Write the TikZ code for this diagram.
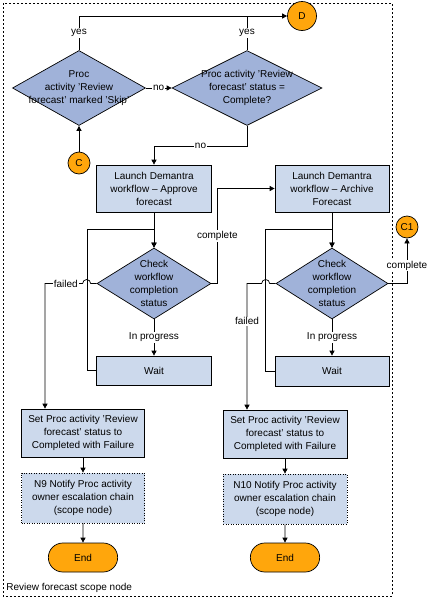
\documentclass[tikz,border=0pt]{standalone}
\usepackage{fontspec}
\setmainfont{Liberation Sans}
\usetikzlibrary{shapes.geometric,shapes.misc,arrows.meta}
\definecolor{diafill}{RGB}{160,178,217}
\definecolor{boxfill}{RGB}{204,217,236}
\definecolor{endfill}{RGB}{255,166,12}
\begin{document}
\begin{tikzpicture}[x=1pt,y=-1pt,font=\fontsize{10}{13}\selectfont,line width=0.7pt,
        >={Triangle[length=5pt,width=5pt]},
        dia/.style={diamond,draw,fill=diafill,inner sep=0pt},
        box/.style={rectangle,draw,fill=boxfill,align=center,inner sep=0pt},
        scopebox/.style={box,dash pattern=on 1pt off 1.5pt},
        conn/.style={circle,draw,fill=endfill,inner sep=0pt,minimum size=22pt},
        endbox/.style={rounded rectangle,draw,fill=endfill,minimum width=76pt,minimum height=29pt},
        lbl/.style={fill=white,inner sep=1pt},
        txt/.style={align=center}]
        \useasboundingbox(0,0)rectangle(429,600);
        \draw[dash pattern=on 2pt off 2pt](3,3)rectangle(392,596);
        \node[anchor=west,inner sep=0pt](18)at(6,588){Review forecast scope node};
        \node[conn,minimum size=29pt](1)at(302,16){D};
        \node[dia,minimum width=133pt,minimum height=75pt](2)at(79,88){};
        \node[txt](2t)at(2){Proc\\activity 'Review\\forecast' marked 'Skip'};
        \node[dia,minimum width=150pt,minimum height=75pt](3)at(247,88){};
        \node[txt](3t)at(3){Proc activity 'Review\\forecast' status =\\Complete?};
        \node[conn](4)at(79,163){C};
        \node[box,minimum width=115pt,minimum height=47pt](5)at(154,188.5){Launch Demantra\\workflow \textendash{} Approve\\forecast};
        \node[box,minimum width=114pt,minimum height=47pt](6)at(332,188.5){Launch Demantra\\workflow \textendash{} Archive\\Forecast};
        \node[dia,minimum width=114pt,minimum height=71pt](7)at(154,283.5){};
        \node[txt](7t)at(7){Check\\workflow\\completion\\status};
        \node[dia,minimum width=112pt,minimum height=71pt](8)at(332,283.5){};
        \node[txt](8t)at(8){Check\\workflow\\completion\\status};
        \node[box,minimum width=115pt,minimum height=29pt](9)at(154,370.5){Wait};
        \node[box,minimum width=114pt,minimum height=30pt](10)at(332,371){Wait};
        \node[box,minimum width=123pt,minimum height=48pt](11)at(83,433){Set Proc activity 'Review\\forecast' status to\\Completed with Failure};
        \node[box,minimum width=124pt,minimum height=48pt](12)at(285,434){Set Proc activity 'Review\\forecast' status to\\Completed with Failure};
        \node[scopebox,minimum width=123pt,minimum height=50pt](13)at(83,498){N9 Notify Proc activity\\owner escalation chain\\(scope node)};
        \node[scopebox,minimum width=124pt,minimum height=50pt](14)at(285,499){N10 Notify Proc activity\\owner escalation chain\\(scope node)};
        \node[endbox](15)at(83,557.5){End};
        \node[endbox](16)at(285,557.5){End};
        \node[conn](17)at(407,227){C1};
        \coordinate(f1)at(45,283.5);
        \coordinate(f2)at(247,283.5);
        \draw[->](2.north)--node[lbl]{yes}(2.north|-1.west)--(1.west);
        \draw(3.north)--node[lbl]{yes}(3.north|-1.west);
        \draw[->](2.east)--node[lbl]{no}(3.west);
        \draw[->](3.south)--++(0,20)-|node[lbl,pos=0.25]{no}(5.north);
        \draw[->](4)--(2.south);
        \draw[->](5)--(7.north);
        \draw[->](9.west)--++(-9,0)--++(0,-141.5)-|(7.north);
        \draw[->](7.south)--node[lbl]{In progress}(9.north);
        \draw[->](7.west)--++(-6,0)arc[start angle=0,end angle=180,radius=4pt]--node[lbl,pos=0.45]{failed}(f1)--(f1|-11.north);
        \draw[->](7.east)--++(6,0)|-node[lbl,pos=0.25]{complete}(6.west);
        \draw[->](6)--(8.north);
        \draw[->](10.west)--++(-9,0)--++(0,-142)-|(8.north);
        \draw[->](8.south)--node[lbl]{In progress}(10.north);
        \draw[->](8.west)--++(-6,0)arc[start angle=0,end angle=180,radius=4pt]--(f2)--node[lbl,pos=0.3]{failed}(f2|-12.north);
        \draw[->](8.east)-|node[lbl,pos=0.7]{complete}(17.south);
        \draw[->](11)--(13);
        \draw[->](12)--(14);
        \draw[->](13)--(15);
        \draw[->](14)--(16);
    \end{tikzpicture}
\end{document}
